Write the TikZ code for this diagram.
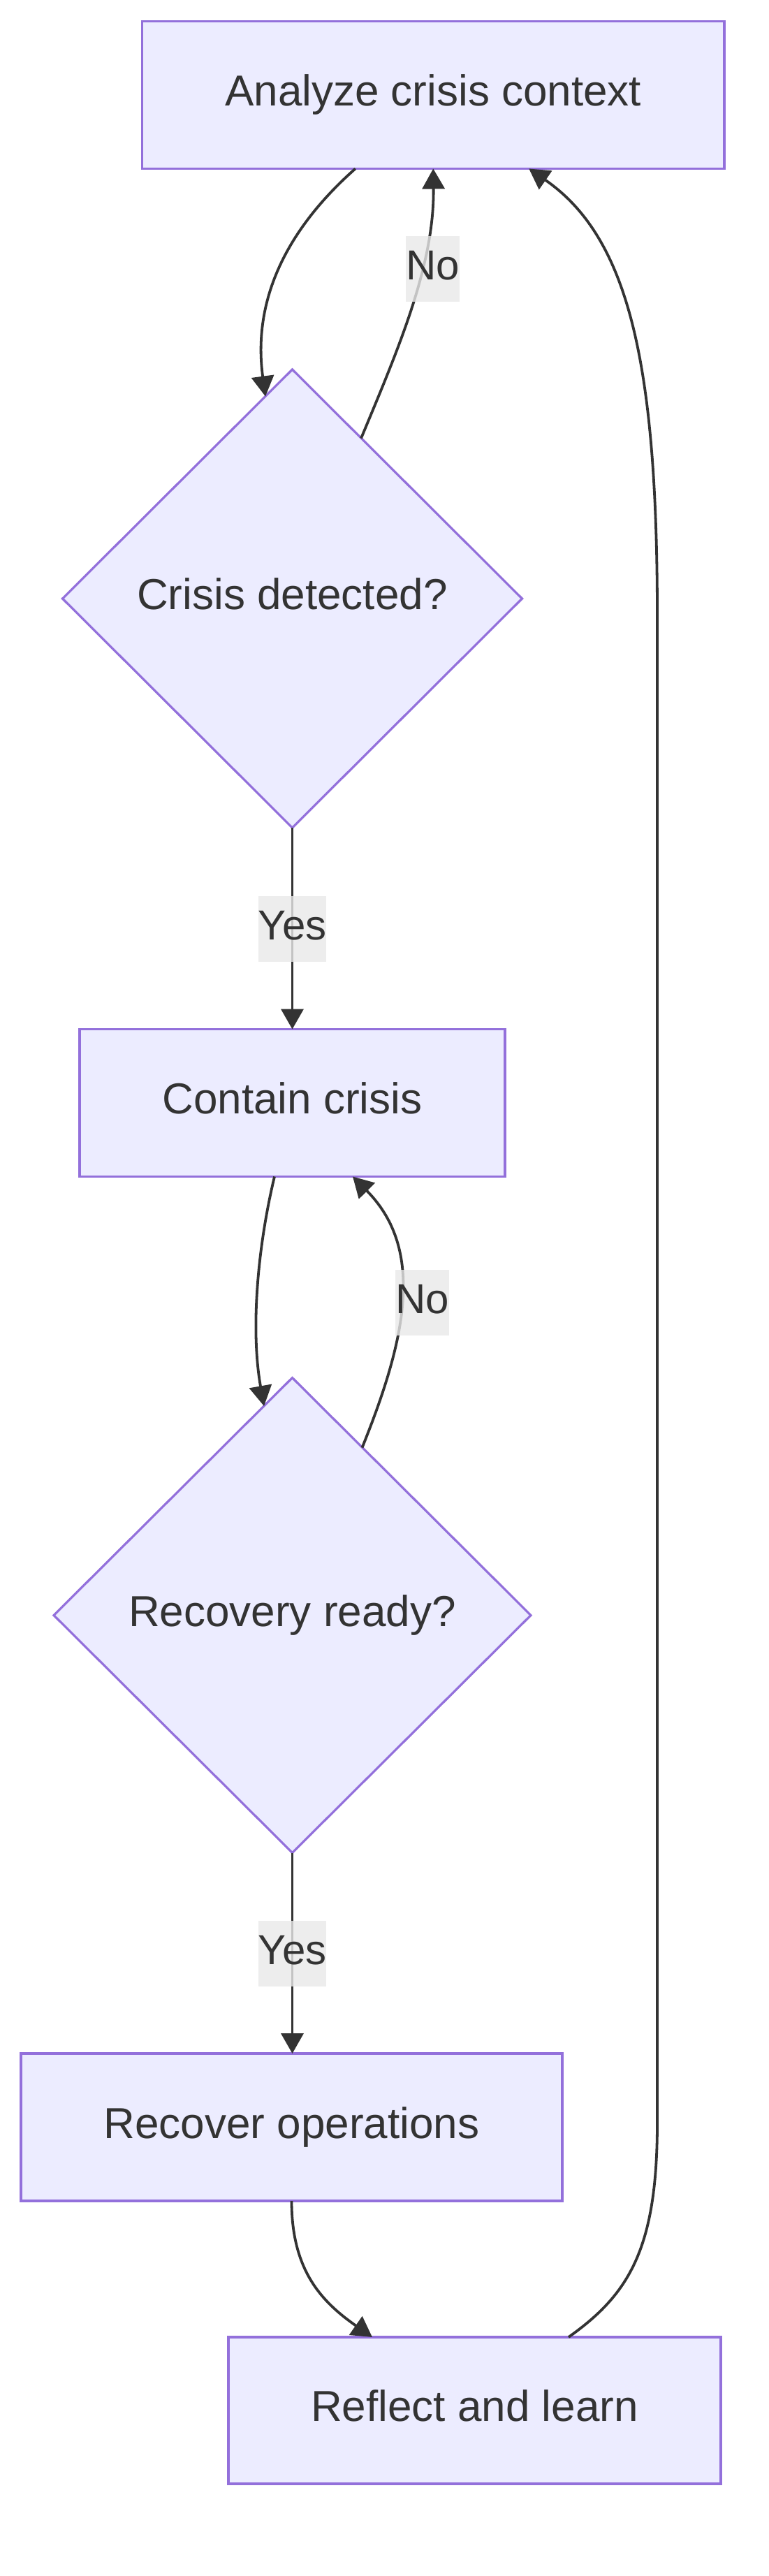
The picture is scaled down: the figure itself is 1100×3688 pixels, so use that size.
\documentclass[tikz,border=0pt]{standalone}
\usepackage{fontspec}
\setmainfont{Liberation Sans}
\usetikzlibrary{arrows.meta,shapes.geometric}
\definecolor{mfill}{HTML}{ECECFF}
\definecolor{mborder}{HTML}{9370DB}
\definecolor{mline}{HTML}{333333}
\definecolor{mtext}{HTML}{333333}
\definecolor{mlabel}{HTML}{E8E8E8}
\tikzset{
  base/.style={draw=mborder, fill=mfill, line width=3.2pt, inner sep=0pt, outer sep=0pt,
    text=mtext, font=\fontsize{62}{74}\selectfont, text height=56pt, text depth=24.5pt},
  procbox/.style={base, rectangle},
  decision/.style={base, diamond},
  edge/.style={draw=mline, line width=3.8pt, -{Triangle[length=29pt,width=32pt]}},
  elabel/.style={fill=mlabel, fill opacity=0.8, text opacity=1, text=mtext, inner xsep=0pt, inner ysep=8pt,
    font=\fontsize{60}{72}\selectfont, text height=54.2pt, text depth=23.8pt}
}
\begin{document}
\begin{tikzpicture}[x=1pt,y=-1pt]
\useasboundingbox (0,0) rectangle (1100,3688);
% nodes
\node[procbox, minimum width=833.5pt, minimum height=211pt] (A) at (620.25,136) {Analyze crisis context};
\node[decision, minimum width=658pt, minimum height=656pt] (D1) at (418.5,857) {Crisis detected?};
\node[procbox, minimum width=609pt, minimum height=211pt] (C) at (418.5,1579) {Contain crisis};
\node[decision, minimum width=683pt, minimum height=680pt] (D2) at (418.5,2312.5) {Recovery ready?};
\node[procbox, minimum width=775pt, minimum height=211pt] (R) at (417.5,3045.5) {Recover operations};
\node[procbox, minimum width=705pt, minimum height=210pt] (L) at (679.5,3451) {Reflect and learn};
% helper coordinates for the long return edge
\coordinate (rtlow) at (941,3040);
\coordinate (rthigh) at (941,880);
% edges
\draw[edge] ([xshift=-111.5pt]A.south) .. controls (420,320) and (360,420) .. ([xshift=-38.5pt,yshift=-38.5pt]D1.north);
\draw[edge] ([xshift=98.5pt,yshift=-98.5pt]D1.north) .. controls (570,500) and (622,380) .. (A.south);
\draw[edge] (D1.south) -- (D1.south |- C.north);
\draw[edge] ([xshift=-25.5pt]C.south) .. controls (370,1780) and (358,1900) .. ([xshift=-40.5pt,yshift=-40.5pt]D2.north);
\draw[edge] ([xshift=100pt,yshift=-100pt]D2.north) .. controls (580,1920) and (610,1790) .. ([xshift=86.5pt]C.south);
\draw[edge] (D2.south) -- (D2.south |- R.north);
\draw[edge] (R.south) .. controls (417.5,3250) and (460,3295) .. ([xshift=-146.5pt]L.north);
\draw[edge] ([xshift=134.5pt]L.north) .. controls (900,3285) and (941,3220) .. (rtlow) -- (rthigh) .. controls (941,520) and (900,340) .. ([xshift=137pt]A.south);
% edge labels
\node[elabel] (n1) at (619.5,385) {No};
\node[elabel] (y1) at (418.5,1330) {Yes};
\node[elabel] (n2) at (604.5,1865) {No};
\node[elabel] (y2) at (418.5,2797) {Yes};
\end{tikzpicture}
\end{document}
